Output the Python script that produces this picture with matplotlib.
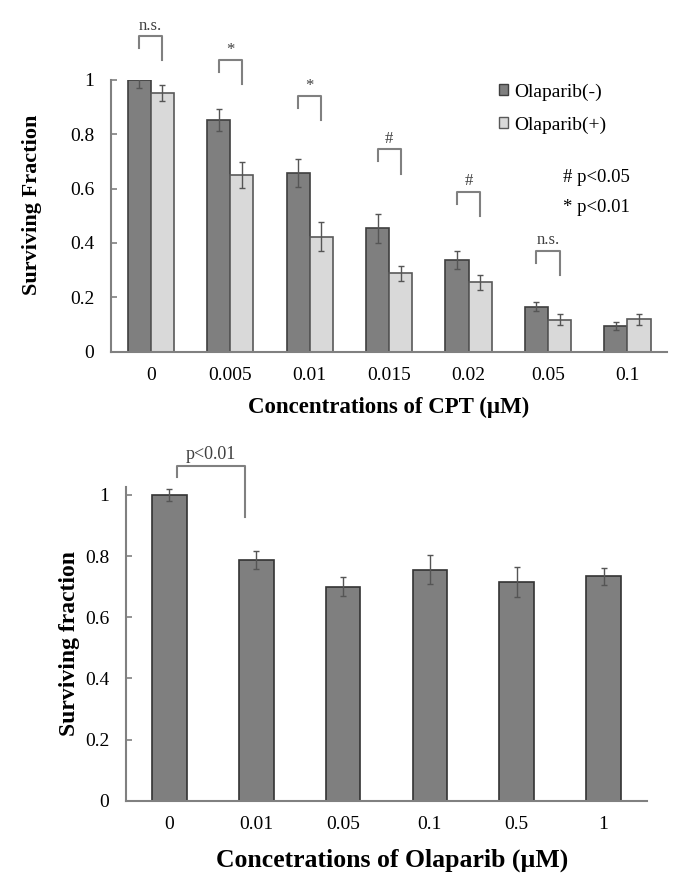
import numpy as np
import matplotlib
matplotlib.use("Agg")
import matplotlib.pyplot as plt
from matplotlib.patches import Patch

plt.rcParams['font.family'] = ['Liberation Serif', 'DejaVu Serif']

# top panel: CPT dose with / without olaparib
cpt_labels = ['0', '0.005', '0.01', '0.015', '0.02', '0.05', '0.1']
ola_minus = [1.0, 0.853, 0.657, 0.454, 0.338, 0.166, 0.096]
ola_minus_err = [0.03, 0.04, 0.05, 0.053, 0.033, 0.018, 0.015]
ola_plus = [0.951, 0.650, 0.423, 0.289, 0.255, 0.117, 0.119]
ola_plus_err = [0.03, 0.048, 0.053, 0.028, 0.027, 0.02, 0.02]
sig_marks = ['n.s.', '*', '*', '#', '#', 'n.s.']
sig_tops = [1.162, 1.073, 0.941, 0.745, 0.589, 0.372]

# bottom panel: olaparib alone
ola_labels = ['0', '0.01', '0.05', '0.1', '0.5', '1']
ola_surv = [1.0, 0.787, 0.700, 0.755, 0.714, 0.734]
ola_surv_err = [0.02, 0.03, 0.03, 0.047, 0.049, 0.028]

axis_col = '#808080'
dark = '#7f7f7f'
light = '#d9d9d9'


def style_axes(ax, size):
    for s in ['top', 'right']:
        ax.spines[s].set_visible(False)
    for s in ['left', 'bottom']:
        ax.spines[s].set_color(axis_col)
        ax.spines[s].set_linewidth(1.5)
    ax.tick_params(axis='y', direction='in', length=4, color=axis_col,
                   width=1.2, pad=12, labelsize=size)
    ax.tick_params(axis='x', length=0, pad=11, labelsize=size)


fig = plt.figure(figsize=(6.85, 8.8), dpi=100)

# ---- top chart
ax1 = fig.add_axes([0.162, 0.6003, 0.812, 0.309])
x = np.arange(len(cpt_labels))
w = 0.29
ax1.bar(x - w / 2, ola_minus, w, color=dark, edgecolor='#3f3f3f', linewidth=1.2,
        yerr=ola_minus_err, ecolor='#555555',
        error_kw=dict(elinewidth=1, capsize=2.5, capthick=1))
ax1.bar(x + w / 2, ola_plus, w, color=light, edgecolor='#595959', linewidth=1.2,
        yerr=ola_plus_err, ecolor='#555555',
        error_kw=dict(elinewidth=1, capsize=2.5, capthick=1))
ax1.set_xlim(-0.5, len(cpt_labels) - 0.5)
ax1.set_ylim(0, 1.0)
ax1.set_yticks([0, 0.2, 0.4, 0.6, 0.8, 1.0])
ax1.set_yticklabels(['0', '0.2', '0.4', '0.6', '0.8', '1'])
ax1.set_xticks(x)
ax1.set_xticklabels(cpt_labels)
style_axes(ax1, 14)

for i, (m, top) in enumerate(zip(sig_marks, sig_tops)):
    xl, xr = i - w / 2, i + w / 2
    ax1.plot([xl, xl, xr, xr], [top - 0.044, top, top, top - 0.09],
             color=axis_col, lw=1.5, clip_on=False)
    ax1.text(i, top + 0.008, m, ha='center', va='bottom', fontsize=12,
             color='#404040', clip_on=False)

ax1.set_ylabel('Surviving Fraction', fontsize=16, fontweight='bold')
ax1.yaxis.set_label_coords(-0.124, 0.54)
ax1.set_xlabel('Concentrations of CPT (\u00b5M)', fontsize=16.5, fontweight='bold')
ax1.xaxis.set_label_coords(0.5, -0.165)

handles = [Patch(facecolor=dark, edgecolor='#3f3f3f', label='Olaparib(-)'),
           Patch(facecolor=light, edgecolor='#595959', label='Olaparib(+)')]
fig.legend(handles=handles, loc='upper left', bbox_to_anchor=(0.728, 0.905),
           frameon=False, fontsize=14, handlelength=0.5, handleheight=0.5,
           handletextpad=0.3, labelspacing=0.8, borderpad=0, borderaxespad=0)

fig.text(563 / 685, 1 - 178 / 880, '# p<0.05', fontsize=13.5, va='center', ha='left')
fig.text(563 / 685, 1 - 207 / 880, '* p<0.01', fontsize=13.5, va='center', ha='left')

# ---- bottom chart
ax2 = fig.add_axes([0.184, 0.0901, 0.7605, 0.3565])
x2 = np.arange(len(ola_labels))
ax2.bar(x2, ola_surv, 0.40, color=dark, edgecolor='#333333', linewidth=1.2,
        yerr=ola_surv_err, ecolor='#555555',
        error_kw=dict(elinewidth=1, capsize=2.5, capthick=1))
ax2.set_xlim(-0.5, len(ola_labels) - 0.5)
ax2.set_ylim(0, 1.026)
ax2.set_yticks([0, 0.2, 0.4, 0.6, 0.8, 1.0])
ax2.set_yticklabels(['0', '0.2', '0.4', '0.6', '0.8', '1'])
ax2.set_xticks(x2)
ax2.set_xticklabels(ola_labels)
style_axes(ax2, 14)

ax2.plot([0.084, 0.084, 0.871, 0.871], [1.06, 1.095, 1.095, 0.929],
         color=axis_col, lw=1.5, clip_on=False)
ax2.text(0.479, 1.105, 'p<0.01', ha='center', va='bottom', fontsize=13,
         color='#404040', clip_on=False)

ax2.set_ylabel('Surviving fraction', fontsize=17, fontweight='bold')
ax2.yaxis.set_label_coords(-0.088, 0.5)
ax2.set_xlabel('Concetrations of Olaparib (\u00b5M)', fontsize=18.5, fontweight='bold')
ax2.xaxis.set_label_coords(0.51, -0.154)

fig.savefig('out.png', dpi=100)
